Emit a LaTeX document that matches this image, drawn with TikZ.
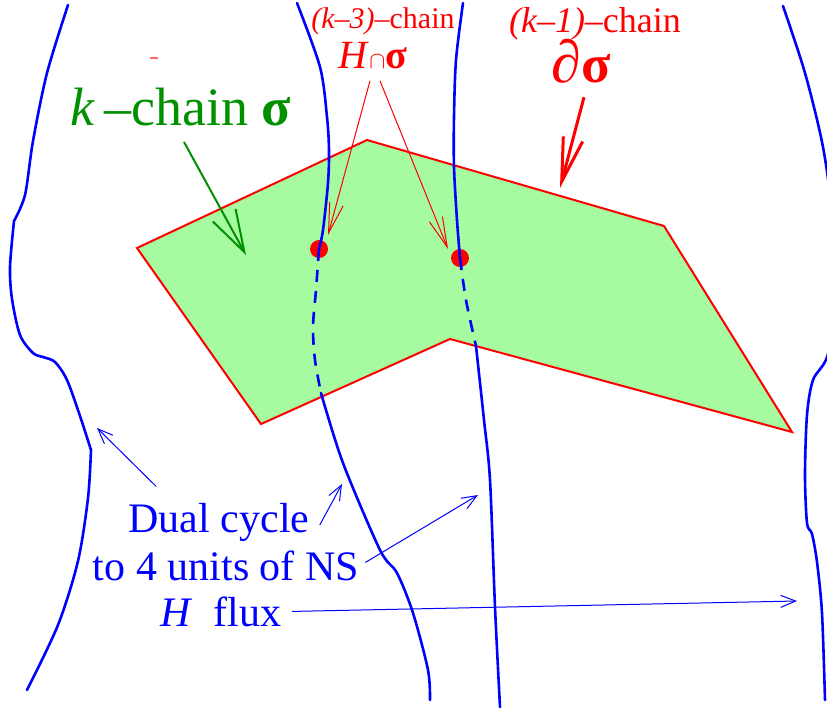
\documentclass[tikz,border=0pt]{standalone}
\usepackage{fontspec}
\setmainfont{Liberation Serif}
\usetikzlibrary{arrows.meta, calc}
\definecolor{FluxBlue}{RGB}{0,0,255}
\definecolor{ChainRed}{RGB}{255,0,0}
\definecolor{ChainGreen}{RGB}{0,144,0}
\definecolor{ChainFill}{RGB}{166,250,160}

\begin{document}
\begin{tikzpicture}[x=0.5pt, y=-0.5pt,
  fluxline/.style={draw=FluxBlue, line width=1.3pt, line cap=round},
  hidden/.style={draw=FluxBlue, line width=1.3pt, dash pattern=on 6pt off 4.5pt},
  chainface/.style={draw=ChainRed, fill=ChainFill, line width=1pt},
  hitdot/.style={circle, fill=ChainRed, minimum size=9pt, inner sep=0pt},
  bluearr/.style={-{Straight Barb[length=7.5pt, width=6pt]}, draw=FluxBlue, line width=0.5pt},
  redarr/.style={-{Straight Barb[length=15pt, width=7pt]}, draw=ChainRed, line width=0.5pt},
  bigarr/.style={-{Straight Barb[length=22pt, width=10pt]}, draw=ChainRed, line width=1.5pt},
  greenarr/.style={-{Straight Barb[length=21pt, width=13pt]}, draw=ChainGreen, line width=1pt},
  lbl/.style={inner sep=0pt, anchor=base},
]
\useasboundingbox (0,0) rectangle (827,720);
%% k-chain face
\coordinate (p1) at (137,248);
\coordinate (p2) at (367,140);
\coordinate (p3) at (664,226);
\coordinate (p4) at (792,432);
\coordinate (p5) at (450,339);
\coordinate (p6) at (261,424);
\draw[chainface] (p1) -- (p2) -- (p3) -- (p4) -- (p5) -- (p6) -- cycle;
%% intersection points
\node[hitdot] (dotL) at (319,249) {};
\node[hitdot] (dotR) at (460,258) {};
%% flux lines
\draw[fluxline] plot[smooth] coordinates {(68,5) (47,73) (33,141) (25,195) (14,221)}
  -- plot[smooth] coordinates {(14,221) (10,267) (12,299) (20,335) (33,353) (43,357) (55,362) (67,380) (80,416) (91,450)}
  -- plot[smooth] coordinates {(91,450) (88,498) (78,561) (58,625) (27,690)};
\draw[fluxline] plot[smooth] coordinates {(297,3) (320,67) (327,117) (329,150) (328,183) (323,230) (dotL)};
\draw[hidden] plot[smooth] coordinates {(dotL) (316,290) (313,327) (315,360) (321,393)};
\draw[fluxline] plot[smooth] coordinates {(321,393) (343,463) (380,550) (397,573) (413,613) (428,670) (430,700)};
\draw[fluxline] plot[smooth] coordinates {(463,3) (456,60) (454,117) (454,167) (457,220) (dotR)};
\draw[hidden] plot[smooth] coordinates {(dotR) (466,300) (476,346)};
\draw[fluxline] plot[smooth] coordinates {(476,346) (484,420) (490,480) (495,607) (500,707)};
\draw[fluxline] plot[smooth] coordinates {(783,6) (805,73) (823,147) (833,220) (837,285) (828,354) (813,380) (807,415) (805,475) (807,523) (812,534) (817,562) (822,613) (825,700)};
\draw[ChainRed!60, line width=1pt] (150,58) -- (158,58);
%% red labels
\node[lbl, text=ChainRed, font=\fontsize{15}{15}\selectfont] (cutlbl) at (383,28) {\textit{(k--3)}--chain};
\node[lbl, text=ChainRed, font=\fontsize{20}{20}\selectfont] (hcap) at (373,68) {\textit{H}{\fontsize{13}{13}\selectfont$\cap$}\textbf{σ}};
\node[lbl, text=ChainRed, font=\fontsize{18}{18}\selectfont] (bdrylbl) at (595,32) {\textit{(k--1)}--chain};
\node[lbl, text=ChainRed, font=\fontsize{27}{27}\selectfont] (bdry) at (581,82) {{\fontsize{30}{30}\selectfont ∂}\textbf{σ}};
%% green label
\node[lbl, text=ChainGreen, font=\fontsize{27}{27}\selectfont] (kchain) at (181,125) {\textit{k}\,--chain \textbf{σ}};
%% blue labels
\node[lbl, text=FluxBlue, font=\fontsize{21}{21}\selectfont] (dual) at (219,532) {Dual cycle};
\node[lbl, text=FluxBlue, font=\fontsize{21}{21}\selectfont] (units) at (226,580) {to 4 units of NS};
\node[lbl, text=FluxBlue, font=\fontsize{21}{21}\selectfont] (flux) at (221,626) {\textit{H}~~flux};
%% arrows
\draw[greenarr] ($(kchain.south)+(3,16)$) -- (246,255);
\draw[redarr] ($(hcap.south)+(-3,12)$) -- ($(dotL)+(9,-14)$);
\draw[redarr] ($(hcap.south)+(7,12)$) -- ($(dotR)+(-12,-9)$);
\draw[bigarr] ($(bdry.south)+(3,14)$) -- (560,188);
\draw[bluearr] ($(dual.north west)+(28,-16)$) -- (97,428);
\draw[bluearr] ($(dual.east)+(10,3)$) -- (342,484);
\draw[bluearr] ($(units.east)+(6,-3)$) -- (478,495);
\draw[bluearr] ($(flux.east)+(10,0)$) -- (797,601);
\end{tikzpicture}
\end{document}
